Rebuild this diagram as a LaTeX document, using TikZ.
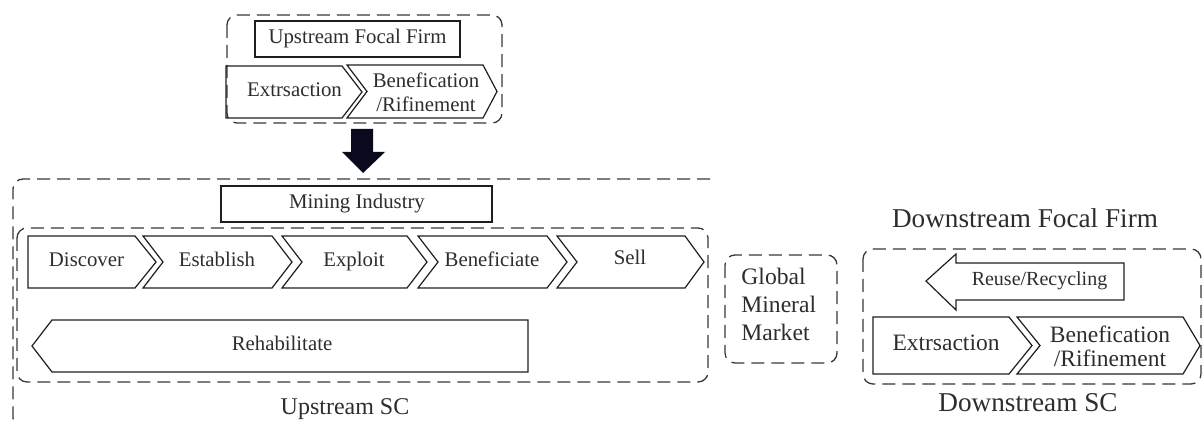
\documentclass[tikz,border=0pt]{standalone}
\usepackage{fontspec}
\setmainfont{Liberation Serif}
\definecolor{txt}{RGB}{45,45,45}
\definecolor{lin}{RGB}{30,30,30}
\definecolor{dsh}{RGB}{55,55,55}
\definecolor{navy}{RGB}{10,10,30}
\newcommand\chevr[6]{%
  \draw[shp] (#1,#3) -- (#2,#3) -- ({#2+#5},{(#3+#4)/2}) -- (#2,#4) -- (#1,#4) -- ({#1+#6},{(#3+#4)/2}) -- cycle;}
\begin{document}
\begin{tikzpicture}[x=0.5pt,y=-0.5pt,
  shp/.style={draw=lin,line width=0.6pt,line join=miter},
  dbox/.style={draw=dsh,line width=0.65pt,dash pattern=on 6.5pt off 3.5pt,rounded corners=5pt},
  lbl/.style={text=txt,inner sep=0pt,align=center,font=\fontsize{10.4}{12}\selectfont},
  one/.style={text height=0.68em,text depth=0.22em},
  big/.style={text=txt,inner sep=0pt,align=center,font=\fontsize{13.6}{16}\selectfont}]
\useasboundingbox (0,0) rectangle (1202,421);
% ---------- upstream focal firm ----------
\draw[dbox] (227,15) rectangle (502,123);
\draw[shp] (255,21) rectangle (460,57);
\node[lbl,one] (uff) at (357.5,39) {Upstream Focal Firm};
\chevr{226}{342}{66}{118}{20}{0}
\chevr{347}{483}{65}{118}{14}{20}
\node[lbl,one] (ext1) at (294.5,92) {Extrsaction};
\node[lbl] (ben1) at (426,92) {Benefication\\/Rifinement};
% ---------- arrow ----------
\fill[navy] (351,129) -- (373,129) -- (373,152) -- (385,152) -- (363,173) -- (342,152) -- (351,152) -- cycle;
% ---------- upstream SC ----------
\draw[dbox] (710,179) -- (13,179) -- (13,428) -- (300,428);
\draw[shp] (221,186) rectangle (492,222);
\node[lbl,one] (mi) at (357,204) {Mining Industry};
\draw[dbox] (17,228) rectangle (708,382);
\chevr{28}{135}{236}{288}{21}{0}
\chevr{143}{272}{236}{288}{20}{20}
\chevr{282}{407}{236}{288}{20}{20}
\chevr{418}{547}{236}{288}{20}{20}
\chevr{557}{685}{236}{288}{19}{20}
\node[lbl,one] (dis) at (86.5,262) {Discover};
\node[lbl,one] (est) at (217,262) {Establish};
\node[lbl,one] (exp) at (354,262) {Exploit};
\node[lbl,one] (bnf) at (492,262) {Beneficiate};
\node[lbl,one] (sel) at (630,260) {Sell};
\draw[shp] (32,346) -- (52,320) -- (528,320) -- (528,372) -- (52,372) -- cycle;
\node[lbl,one] (reh) at (282,346) {Rehabilitate};
\node[text=txt,inner sep=0pt,one,font=\fontsize{12}{14}\selectfont] (usc) at (345,410) {Upstream SC};
% ---------- global market ----------
\draw[dbox] (725,255) rectangle (837,363);
\node[text=txt,inner sep=0pt,align=left,anchor=west,font=\fontsize{11.8}{14}\selectfont] (gmm) at (741,304) {Global\\Mineral\\Market};
% ---------- downstream ----------
\node[big,one] (dff) at (1025,223) {Downstream Focal Firm};
\draw[dbox] (863,249) rectangle (1201,384);
\draw[shp] (926,281) -- (956,254) -- (956,263) -- (1124,263) -- (1124,300) -- (956,300) -- (956,310) -- cycle;
\node[text=txt,inner sep=0pt,one,font=\fontsize{10}{12}\selectfont] (rr) at (1039.5,281) {Reuse/Recycling};
\chevr{873}{1009}{317}{374}{23}{0}
\chevr{1017}{1183}{317}{374}{17}{23}
\node[text=txt,inner sep=0pt,one,font=\fontsize{11.75}{12}\selectfont] (ext2) at (946,346) {Extrsaction};
\node[text=txt,inner sep=0pt,align=center,font=\fontsize{11.75}{12}\selectfont] (ben2) at (1110,346) {Benefication\\/Rifinement};
\node[big,one] (dsc) at (1028,407) {Downstream SC};
\end{tikzpicture}
\end{document}
